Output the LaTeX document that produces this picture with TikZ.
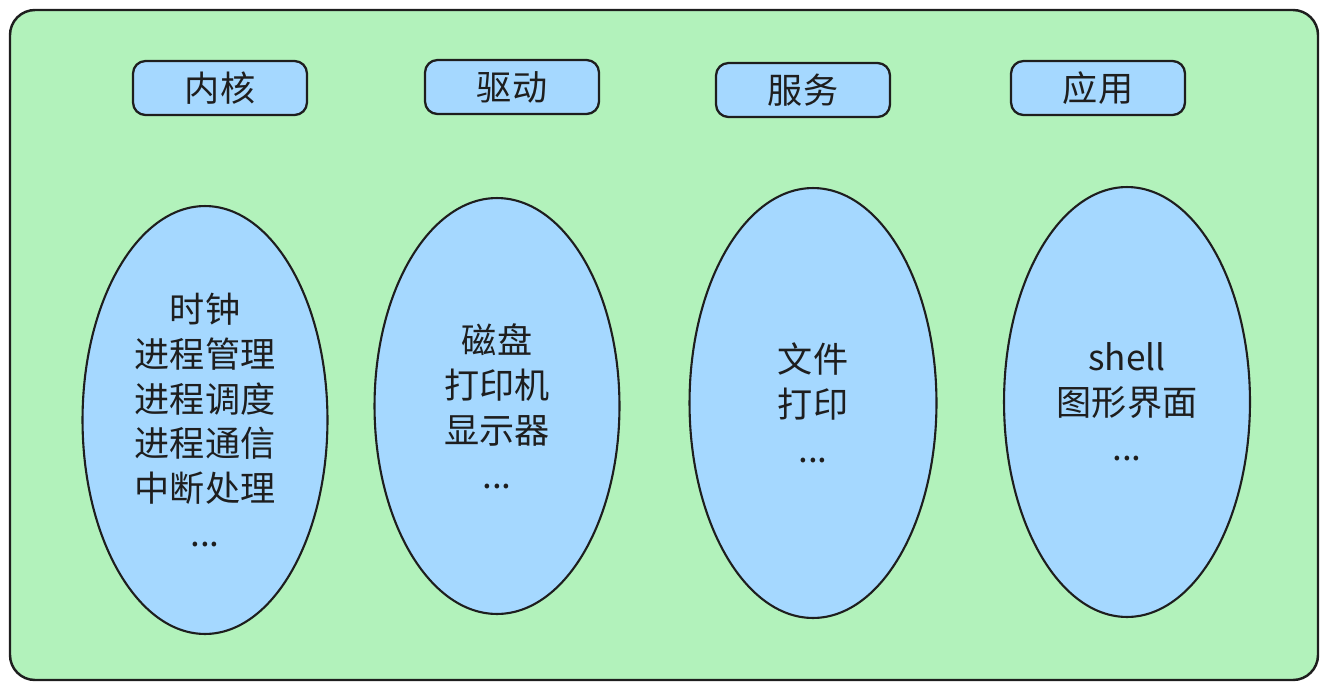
\documentclass[tikz,border=0pt]{standalone}
\usepackage{fontspec}
\setmainfont{Noto Sans CJK SC}
\usetikzlibrary{shapes.geometric}
\definecolor{panelgreen}{HTML}{B2F2BB}
\definecolor{boxblue}{HTML}{A5D8FF}
\definecolor{inkblack}{HTML}{1E1E1E}

\begin{document}
\begin{tikzpicture}[x=0.02cm, y=-0.02cm,
    font=\fontsize{20}{25.6}\selectfont,
    title/.style={draw=inkblack, line width=1.3pt, fill=boxblue, rounded corners=0.25cm,
        minimum width=3.48cm, minimum height=1.08cm, text=inkblack},
    group/.style={ellipse, draw=inkblack, line width=1.2pt, fill=boxblue, inner sep=0pt,
        minimum width=4.9cm, minimum height=8.5cm, align=center, text=inkblack}]
    \useasboundingbox (0,0) rectangle (1328,690);
    \draw[draw=inkblack, line width=1.4pt, fill=panelgreen, rounded corners=0.5cm] (10,10) rectangle (1318,680);

    \node[title] (kernel) at (220,88) {内核};
    \node[title] (driver) at (512,87) {驱动};
    \node[title] (service) at (803,90) {服务};
    \node[title] (app) at (1098,88) {应用};

    \node[group, minimum height=8.56cm] (kernel_set) at (205,420) {时钟\\进程管理\\进程调度\\进程通信\\中断处理\\...};
    \node[group, minimum height=8.32cm] (driver_set) at (497,406) {磁盘\\打印机\\显示器\\...};
    \node[group, minimum width=4.94cm, minimum height=8.6cm] (service_set) at (813,403) {文件\\打印\\...};
    \node[group, minimum width=4.92cm, minimum height=8.6cm] (app_set) at (1127,402) {shell\\图形界面\\...};
\end{tikzpicture}
\end{document}
